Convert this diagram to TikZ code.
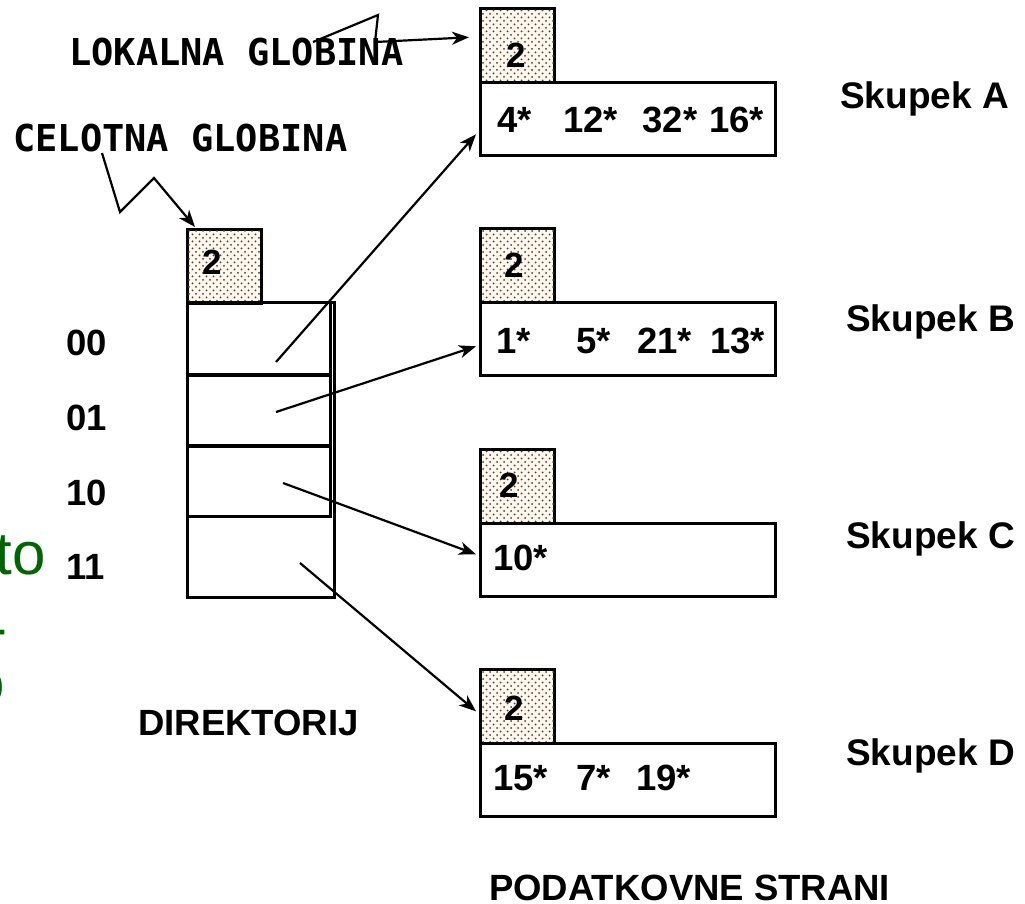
\documentclass[tikz,border=0pt]{standalone}
\usepackage{fontspec}
\setmainfont{Liberation Sans}
\newfontfamily\monofam{DejaVu Sans Mono}
\usetikzlibrary{arrows.meta,patterns.meta}

\definecolor{cream}{RGB}{255,247,236}
\definecolor{leafgreen}{RGB}{0,100,0}

\tikzset{
  box/.style={draw, line width=2.6pt, inner sep=0pt, anchor=north west},
  depthbox/.style={box, minimum width=74pt, minimum height=74pt, fill=cream,
    postaction={pattern={Dots[distance=7pt,radius=1pt]}, pattern color=black!75},
    postaction={pattern={Dots[distance=7pt,radius=1pt,xshift=3.5pt,yshift=3.5pt]}, pattern color=black!75}},
  bucketbox/.style={box, minimum width=295pt, minimum height=73pt},
  txt/.style={inner sep=0pt, anchor=base west, font=\bfseries\fontsize{36.5}{40}\selectfont},
  skup/.style={inner sep=0pt, anchor=base west, font=\bfseries\fontsize{37}{40}\selectfont},
  digit/.style={inner sep=0pt, anchor=center, font=\bfseries\fontsize{35}{40}\selectfont},
  mono/.style={inner sep=0pt, anchor=base west, font=\monofam\bfseries\fontsize{37}{40}\selectfont},
  green/.style={inner sep=0pt, anchor=base east, text=leafgreen, font=\fontsize{60}{66}\selectfont},
  link/.style={line width=2.2pt, -{Stealth[length=17pt,width=13pt,inset=5pt]}},
}

\begin{document}
\begin{tikzpicture}[x=1pt,y=-1pt]
\useasboundingbox (0,0) rectangle (1025,903);
\clip (0,0) rectangle (1025,903);

% directory with its global depth
\node[depthbox] (dDir) at (186,228) {};
\node[digit] (nDir) at (212,262.5) {2};
\node[box, minimum width=143pt, minimum height=72pt] (r0) at (186,301) {};
\node[box, minimum width=143pt, minimum height=70pt] (r1) at (186,374) {};
\node[box, minimum width=143pt, minimum height=70pt] (r2) at (186,445) {};
\node[box, minimum width=147pt, minimum height=295pt] (dir) at (186,301) {};

% row labels
\node[txt] (k00) at (66,355) {00};
\node[txt] (k01) at (66,430) {01};
\node[txt] (k10) at (66,505) {10};
\node[txt] (k11) at (66,579) {11};

% buckets with local depths
\node[depthbox] (dA) at (479,7) {};
\node[digit] (nA) at (516,55) {2};
\node[bucketbox] (bA) at (479,81) {};
\node[depthbox] (dB) at (479,227) {};
\node[digit] (nB) at (514,265) {2};
\node[bucketbox] (bB) at (479,301) {};
\node[depthbox] (dC) at (479,448) {};
\node[digit] (nC) at (509.5,485) {2};
\node[bucketbox] (bC) at (479,522) {};
\node[depthbox] (dD) at (479,668) {};
\node[digit] (nD) at (514,708) {2};
\node[bucketbox] (bD) at (479,742) {};

% bucket contents
\node[txt] (eA) at (497,132) {\makebox[66pt][l]{4*}\makebox[79.5pt][l]{12*}\makebox[66.5pt][l]{32*}16*};
\node[txt] (eB) at (496,353) {\makebox[80pt][l]{1*}\makebox[61pt][l]{5*}\makebox[73pt][l]{21*}13*};
\node[txt] (eC) at (493,570) {10*};
\node[txt] (eD) at (493,790) {\makebox[83pt][l]{15*}\makebox[60pt][l]{7*}19*};

% bucket names
\node[skup] (sA) at (840,108) {Skupek A};
\node[skup] (sB) at (846,331) {Skupek B};
\node[skup] (sC) at (846,548) {Skupek C};
\node[skup] (sD) at (846,765) {Skupek D};

% captions
\node[txt] (capDir) at (138,735) {DIREKTORIJ};
\node[txt] (capPages) at (489,900) {PODATKOVNE STRANI};
\node[mono] (lok) at (69,65.7) {LOKALNA GLOBINA};
\node[mono] (cel) at (13,151) {CELOTNA GLOBINA};

% text running in from the left edge
\node[green] (g1) at (46,574) {to};
\node[green] (g2) at (8,648) {-};
\node[green] (g3) at (5,703) {o};

% pointers from directory entries to buckets
\coordinate (s0) at (276,362);
\coordinate (s1) at (276,412);
\coordinate (s2) at (283,483);
\coordinate (s3) at (300,563);
\draw[link] (s0) -- ([xshift=-3pt,yshift=-15.5pt]bA.west);
\draw[link] (s1) -- ([xshift=-3pt,yshift=-7.5pt]bB.west);
\draw[link] (s2) -- ([xshift=-3pt,yshift=5.5pt]bC.west);
\draw[link] (s3) -- ([xshift=-3pt,yshift=-5pt]dD.west);

% depth annotations
\coordinate (l0) at (313,42);
\draw[link] (l0) -- (378,15) -- (375,42) -- ([xshift=-10pt,yshift=8pt]dA.west);
\coordinate (c0) at (102,153);
\draw[link] (c0) -- (120,212) -- (154,178) -- ([xshift=9pt,yshift=1pt]dDir.north west);
\end{tikzpicture}
\end{document}
